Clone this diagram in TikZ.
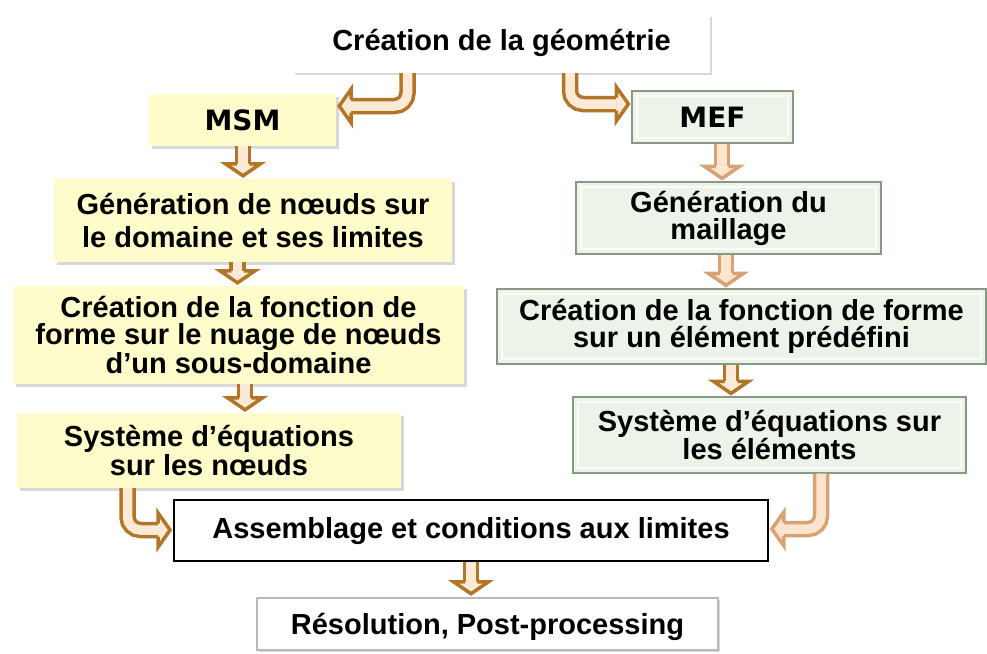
\documentclass[tikz,border=0pt]{standalone}
\usepackage{fontspec}
\setmainfont{Liberation Sans}
\newfontfamily\comicfont{DejaVu Sans}
\usetikzlibrary{shadows,calc}
\definecolor{arrdark}{RGB}{178,118,40}
\definecolor{crm}{RGB}{253,234,214}
\definecolor{arrlight}{RGB}{214,162,118}
\definecolor{crml}{RGB}{253,228,204}
\definecolor{yel}{RGB}{255,252,204}
\definecolor{grn}{RGB}{236,244,233}
\definecolor{grnedge}{RGB}{135,152,133}
\newcommand\vdarr[4]{%
  \draw[#1shaft] let \p1=(#3.south), \p2=(#4.north) in (#2,\y1) -- (#2,\y2+15pt);
  \filldraw[#1head] let \p2=(#4.north) in (#2-6.25,\y2+15pt) -- (#2-17.5,\y2+15pt) -- (#2,\y2+3pt) -- (#2+17.5,\y2+15pt) -- (#2+6.25,\y2+15pt);
}
\begin{document}
\begin{tikzpicture}[x=1pt,y=-1pt,
  txt/.style={font=\fontsize{29}{27}\selectfont\bfseries, align=center, inner sep=0pt},
  yelbox/.style={txt, fill=yel, drop shadow={shadow xshift=3pt, shadow yshift=-3pt, opacity=0.3}},
  grnbox/.style={txt, fill=grn, draw=grnedge, line width=1.2pt,
    path picture={\draw[white, line width=1.5pt, opacity=0.8] ([shift={(5pt,-5pt)}]path picture bounding box.north west) rectangle ([shift={(-5pt,5pt)}]path picture bounding box.south east);}},
  whitebox/.style={txt, fill=white, drop shadow={shadow xshift=2pt, shadow yshift=-2pt, opacity=0.3}},
  comic/.style={font=\fontsize{28}{28}\selectfont\comicfont\bfseries},
  darkshaft/.style={draw=arrdark, double=crm, line width=3.5pt, double distance=9.5pt},
  darkhead/.style={draw=arrdark, fill=crm, line width=3.5pt, line join=miter},
  lightshaft/.style={draw=arrlight, double=crml, line width=3.5pt, double distance=9.5pt},
  lighthead/.style={draw=arrlight, fill=crml, line width=3.5pt, line join=miter}]
\useasboundingbox[fill=white] (0,0) rectangle (987,653);

\node[whitebox, minimum width=417pt, minimum height=58pt, text height=21pt, text depth=8pt] (top) at (501.5,44) {Création de la géométrie};
\node[yelbox, comic, minimum width=187pt, minimum height=52pt] (msm) at (242.5,120) {MSM};
\node[grnbox, comic, minimum width=161pt, minimum height=52pt] (mef) at (712.5,117) {MEF};

\node[yelbox, font=\fontsize{29}{33}\selectfont\bfseries, minimum width=398pt, minimum height=83pt] (genL) at (253,220.5) {Génération de nœuds sur\\le domaine et ses limites};
\node[yelbox, minimum width=451pt, minimum height=98pt] (creL) at (238.5,335) {Création de la fonction de\\forme sur le nuage de nœuds\\d’un sous-domaine};
\node[yelbox, minimum width=384pt, minimum height=75pt] (sysL) at (209,450.5) {Système d’équations\\sur les nœuds};

\node[grnbox, minimum width=305pt, minimum height=72pt] (genR) at (728.5,218) {Génération du\\maillage};
\node[grnbox, minimum width=489pt, minimum height=75pt] (creR) at (741.5,326.5) {Création de la fonction de forme\\sur un élément prédéfini};
\node[grnbox, minimum width=393pt, minimum height=76pt] (sysR) at (769.5,435) {Système d’équations sur\\les éléments};

\node[txt, fill=white, draw=black, line width=1.8pt, minimum width=594pt, minimum height=61pt, text height=22pt, text depth=7pt] (ass) at (471,530.5) {Assemblage et conditions aux limites};
\node[txt, fill=white, draw=gray!55, line width=2.5pt, minimum width=461pt, minimum height=52pt, text height=25pt, text depth=4pt, drop shadow={shadow xshift=2pt, shadow yshift=-2pt, opacity=0.3}] (res) at (487.5,624) {Résolution, Post-processing};

% straight arrows
\vdarr{dark}{243}{msm}{genL}
\vdarr{dark}{237.5}{genL}{creL}
\vdarr{dark}{245}{creL}{sysL}
\vdarr{light}{722}{mef}{genR}
\vdarr{light}{726}{genR}{creR}
\vdarr{dark}{731}{creR}{sysR}
\vdarr{dark}{471}{ass}{res}

% bent arrows
\draw[darkshaft, rounded corners=13pt] let \p1=(top.south), \p2=(msm.east) in (407.5,\y1) |- (\x2+15pt,106);
\filldraw[darkhead] let \p2=(msm.east) in (\x2+15pt,106-6.5) -- (\x2+15pt,106-17) -- (\x2+3pt,106) -- (\x2+15pt,106+17) -- (\x2+15pt,106+6.5);

\draw[darkshaft, rounded corners=13pt] let \p1=(top.south), \p2=(mef.west) in (570,\y1) |- (\x2-15pt,104);
\filldraw[darkhead] let \p2=(mef.west) in (\x2-15pt,104-6.5) -- (\x2-15pt,104-17) -- (\x2-3pt,104) -- (\x2-15pt,104+17) -- (\x2-15pt,104+6.5);

\draw[darkshaft, rounded corners=13pt] let \p1=(sysL.south), \p2=(ass.west) in (127.5,\y1) |- (\x2-15pt,530);
\filldraw[darkhead] let \p2=(ass.west) in (\x2-15pt,530-6.5) -- (\x2-15pt,530-17) -- (\x2-3pt,530) -- (\x2-15pt,530+17) -- (\x2-15pt,530+6.5);

\draw[lightshaft, rounded corners=13pt] let \p1=(sysR.south), \p2=(ass.east) in (821,\y1) |- (\x2+15pt,529);
\filldraw[lighthead] let \p2=(ass.east) in (\x2+15pt,529-6.5) -- (\x2+15pt,529-17) -- (\x2+3pt,529) -- (\x2+15pt,529+17) -- (\x2+15pt,529+6.5);
\end{tikzpicture}
\end{document}
